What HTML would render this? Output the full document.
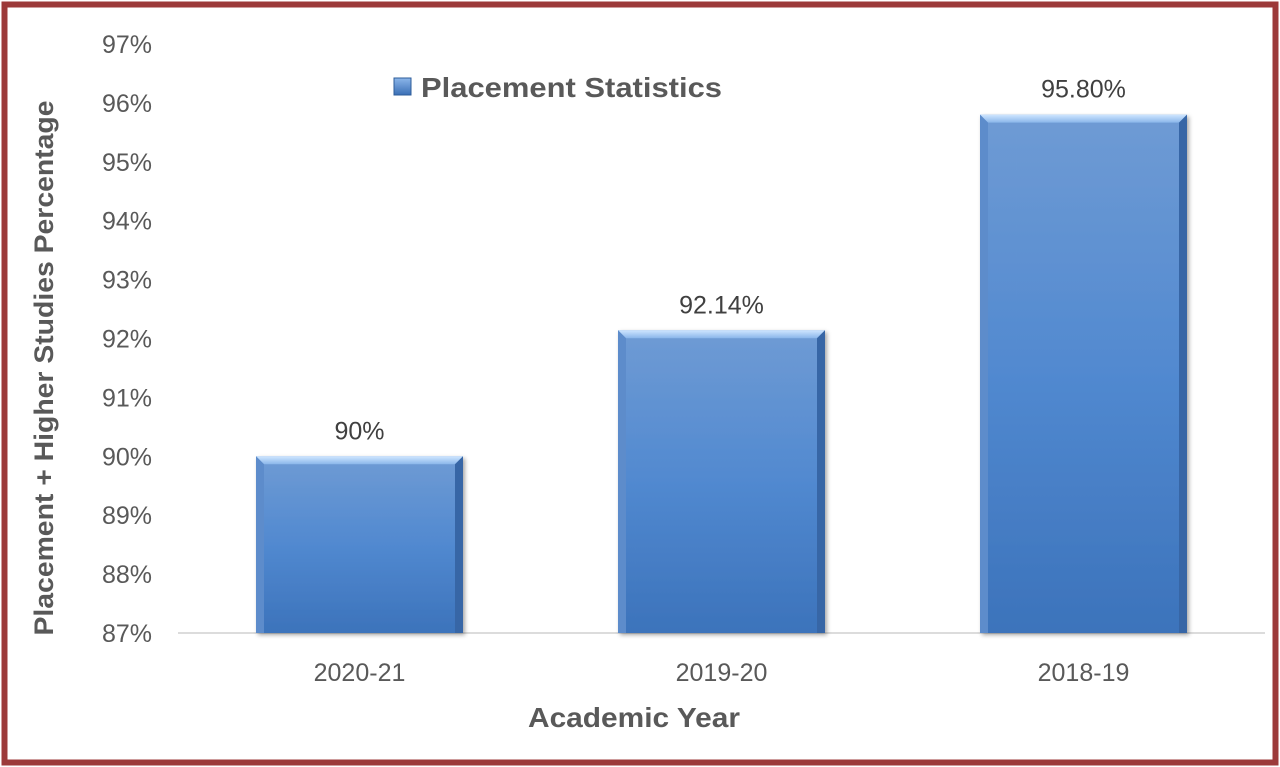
<!DOCTYPE html>
<html><head><meta charset="utf-8"><style>
html,body{margin:0;padding:0;background:#fff;}
svg{display:block;font-family:"Liberation Sans",sans-serif;}
</style></head><body>
<svg id="chart" width="1280" height="767">
<defs>
<linearGradient id="barg" x1="0" y1="0" x2="0" y2="1">
<stop offset="0" stop-color="#6f9bd4"/><stop offset="0.5" stop-color="#5189d0"/><stop offset="1" stop-color="#3c73bb"/>
</linearGradient>
<linearGradient id="bevt" x1="0" y1="0" x2="0" y2="1">
<stop offset="0" stop-color="#cfe6ff"/><stop offset="1" stop-color="#8ab6ea"/>
</linearGradient>
<linearGradient id="legg" x1="0" y1="0" x2="0" y2="1"><stop offset="0" stop-color="#8cb6ea"/><stop offset="1" stop-color="#3a6fb5"/></linearGradient>
<filter id="sh" x="-10%" y="-10%" width="120%" height="120%"><feDropShadow dx="2" dy="2" stdDeviation="2" flood-color="#000" flood-opacity="0.35"/></filter>
</defs>
<rect x="4.5" y="4.5" width="1271" height="758" fill="#fff" stroke="#9c3a3a" stroke-width="6"/>
<g id="yaxis"></g>
<line x1="178" y1="633" x2="1265" y2="633" stroke="#d0d0d0" stroke-width="1.5"/>
<g id="bars"></g>
<g id="xaxis"></g>
<text x="0" y="0" transform="translate(53,368) rotate(-90)" text-anchor="middle" font-size="27" font-weight="bold" fill="#595959" textLength="535" lengthAdjust="spacingAndGlyphs">Placement + Higher Studies Percentage</text>
<text x="634" y="727" text-anchor="middle" font-size="28" font-weight="bold" fill="#595959" textLength="212" lengthAdjust="spacingAndGlyphs">Academic Year</text>
<g>
<rect x="394" y="78" width="17" height="17" fill="url(#legg)" stroke="#2e5c9a" stroke-width="1"/>
<text x="421" y="97" font-size="28" font-weight="bold" fill="#595959" textLength="301" lengthAdjust="spacingAndGlyphs">Placement Statistics</text>
</g>
</svg>
<script>
const categories = ["2020-21","2019-20","2018-19"];
const values = [90, 92.14, 95.8];
const valueLabels = ["90%","92.14%","95.80%"];
const yTicks = [87,88,89,90,91,92,93,94,95,96,97];
const NS="http://www.w3.org/2000/svg";
const x0=178.5, plotW=1086, yMin=87, yMax=97, yTop=44, yBot=633;
function yScale(v){return yBot-(v-yMin)/(yMax-yMin)*(yBot-yTop);}
function xCenter(i){return x0+plotW/categories.length*(i+0.5);}
function mk(tag,attrs,parent){const e=document.createElementNS(NS,tag);for(const k in attrs)e.setAttribute(k,attrs[k]);parent.appendChild(e);return e;}
const ya=document.getElementById('yaxis'), ba=document.getElementById('bars'), xa=document.getElementById('xaxis');
yTicks.forEach(t=>{
  const tx=mk('text',{x:152,y:yScale(t)+9,'text-anchor':'end','font-size':25,fill:'#595959'},ya);
  tx.textContent=t+'%';
  
  
});
const bw=207;
categories.forEach((c,i)=>{
  const cx=xCenter(i), x=cx-bw/2, y=yScale(values[i]), h=yBot-y;
  const g=mk('g',{},ba);
  
  
  mk('rect',{x:x,y:y,width:bw,height:h,fill:'url(#barg)',filter:'url(#sh)'},g);
  mk('polygon',{points:`${x},${y} ${x+bw},${y} ${x+bw-8},${y+8} ${x+8},${y+8}`,fill:'url(#bevt)'},g);
  mk('polygon',{points:`${x},${y} ${x+8},${y+8} ${x+8},${yBot} ${x},${yBot}`,fill:'#5d8ccb'},g);
  mk('polygon',{points:`${x+bw},${y} ${x+bw-8},${y+8} ${x+bw-8},${yBot} ${x+bw},${yBot}`,fill:'#3766a6'},g);
  const lb=mk('text',{x:cx,y:y-17,'text-anchor':'middle','font-size':25,fill:'#404040'},ba);
  lb.textContent=valueLabels[i];
  
  
  const xl=mk('text',{x:cx,y:681,'text-anchor':'middle','font-size':25,fill:'#595959'},xa);
  xl.textContent=c;
  
  
});
</script>
</body></html>
